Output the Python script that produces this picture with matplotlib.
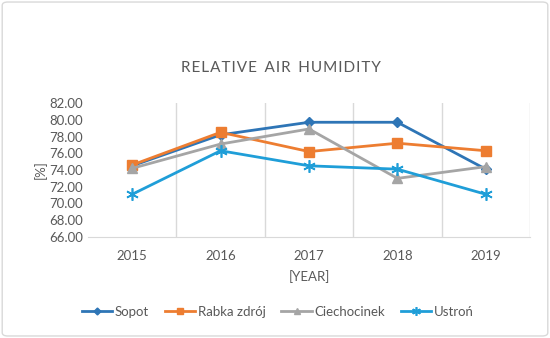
import matplotlib.pyplot as plt
from matplotlib.patches import FancyBboxPatch

years = ["2015", "2016", "2017", "2018", "2019"]
sopot = [74.5, 78.2, 79.7, 79.7, 74.1]
rabka = [74.6, 78.5, 76.2, 77.2, 76.3]
ciechocinek = [74.2, 77.1, 78.9, 73.0, 74.4]
ustron = [71.1, 76.3, 74.5, 74.1, 71.1]

plt.rcParams['font.family'] = ['Lato', 'DejaVu Sans']
gray = "#595959"

fig = plt.figure(figsize=(5.5, 3.38), dpi=100)
ax = fig.add_axes([88/550, 1-237/338, 442/550, 134/338])

x = range(len(years))
ax.plot(x, sopot, color="#2E75B6", marker="D", ms=5, lw=2, label="Sopot")
ax.plot(x, rabka, color="#ED7D31", marker="s", ms=7, lw=2, label="Rabka zdrój")
ax.plot(x, ciechocinek, color="#A5A5A5", marker="^", ms=7, lw=2, label="Ciechocinek")
ax.plot(x, ustron, color="#1F9ED8", marker=(6, 2, 0), ms=9, mew=1.2, lw=2, label="Ustroń")

ax.set_xlim(-0.5, 4.5)
ax.set_ylim(66, 82)
ax.set_yticks(range(66, 83, 2))
ax.set_yticklabels(["%.2f" % v for v in range(66, 83, 2)])
ax.set_xticks(list(x))
ax.set_xticklabels(years)
for g in [0.5, 1.5, 2.5, 3.5, 4.5]:
    ax.axvline(g, color="#D9D9D9", lw=1, zorder=0)

for s in ["top", "right", "left"]:
    ax.spines[s].set_visible(False)
ax.spines["bottom"].set_color("#D9D9D9")
ax.tick_params(length=0, colors=gray, labelsize=9.5)
ax.tick_params(axis="x", pad=9)

ax.set_xlabel("[YEAR]", color=gray, fontsize=9.5, labelpad=6)
ax.set_ylabel("[%]", color=gray, fontsize=9.5, labelpad=2)
title = "\u200a".join("RELATIVE AIR HUMIDITY").replace("\u200a \u200a", "\u2009 \u2009")
fig.text(0.51, 1-68/338, title, ha="center", va="center", color=gray, fontsize=11,
         family=["Lato", "DejaVu Sans"])

fig.legend(loc="center", bbox_to_anchor=(0.505, 1-312/338), ncol=4, frameon=False,
           fontsize=9.5, labelcolor=gray, handlelength=2.3, columnspacing=1.2,
           handletextpad=0.2, markerscale=0.7)

border = FancyBboxPatch((0.004, 0.006), 0.992, 0.988, boxstyle="round,pad=0,rounding_size=0.01",
                        transform=fig.transFigure, fill=False, edgecolor="#D9D9D9", lw=1)
fig.patches.append(border)

fig.savefig("out.png", dpi=100)
